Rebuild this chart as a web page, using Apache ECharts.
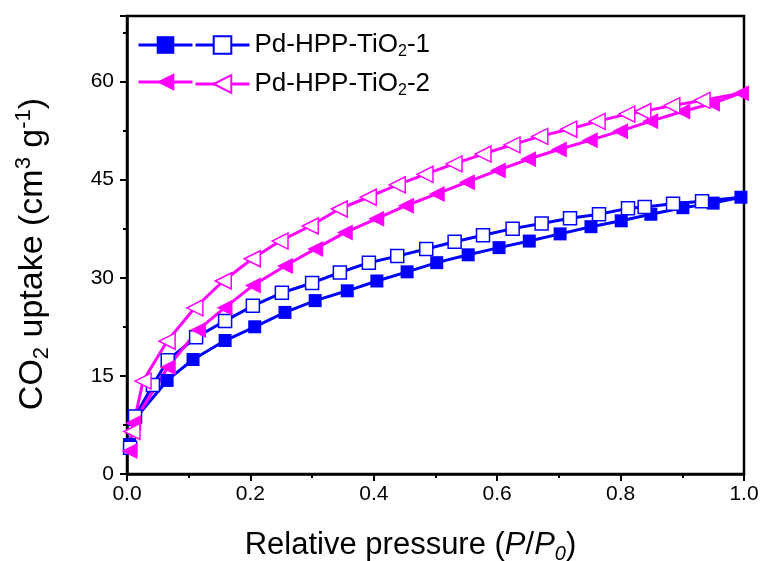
<!DOCTYPE html>
<html><head><meta charset="utf-8">
<script src="https://cdn.jsdelivr.net/npm/echarts@6/dist/echarts.min.js"></script>
<style>html,body{margin:0;padding:0;background:#fff}#c{width:761px;height:561px}</style>
</head><body><div id="c"></div>
<script>
// Relative pressure (P/P0), CO2 uptake (cm3 g-1)
const sample1Adsorption = [[0.004,4.5],[0.012,8.3],[0.065,14.3],[0.107,17.5],[0.159,20.4],[0.207,22.5],[0.256,24.7],[0.305,26.5],[0.357,28.0],[0.405,29.5],[0.454,30.9],[0.502,32.3],[0.553,33.5],[0.603,34.6],[0.652,35.6],[0.702,36.7],[0.752,37.8],[0.801,38.7],[0.849,39.7],[0.901,40.7],[0.950,41.4],[0.995,42.3]];
const sample1Desorption = [[0.995,42.3],[0.932,41.7],[0.885,41.3],[0.839,40.8],[0.812,40.6],[0.765,39.7],[0.718,39.1],[0.672,38.3],[0.625,37.5],[0.577,36.5],[0.531,35.5],[0.485,34.4],[0.438,33.3],[0.392,32.3],[0.345,30.8],[0.300,29.2],[0.251,27.7],[0.204,25.7],[0.159,23.4],[0.112,20.9],[0.066,17.4],[0.042,13.6],[0.013,8.8],[0.005,4.0]];
const sample2Adsorption = [[0.004,3.5],[0.010,7.8],[0.066,16.3],[0.115,22.0],[0.158,25.4],[0.204,28.8],[0.256,31.8],[0.305,34.4],[0.353,36.9],[0.404,39.0],[0.452,41.0],[0.502,42.8],[0.551,44.6],[0.601,46.4],[0.650,48.1],[0.700,49.6],[0.750,51.0],[0.799,52.4],[0.848,53.9],[0.900,55.4],[0.948,56.6],[0.995,58.2]];
const sample2Desorption = [[0.995,58.2],[0.932,57.1],[0.883,56.3],[0.836,55.4],[0.810,55.0],[0.762,53.9],[0.716,52.7],[0.669,51.6],[0.624,50.3],[0.577,48.9],[0.530,47.4],[0.483,45.8],[0.438,44.2],[0.391,42.3],[0.344,40.5],[0.297,37.9],[0.248,35.6],[0.203,32.9],[0.156,29.5],[0.110,25.4],[0.065,20.3],[0.026,14.2],[0.008,6.5]];
const xTicks = [0, 0.2, 0.4, 0.6, 0.8, 1.0];
const yTicks = [0, 15, 30, 45, 60];
const legendLabels = ['Pd-HPP-TiO{sub|2}-1', 'Pd-HPP-TiO{sub|2}-2'];

const FONT = "'Liberation Sans', Arial, sans-serif";
const BLUE = '#0000ff', MAG = '#ff00ff';

function desData(arr){ return arr.map((p,i)=> i===0 ? {value:p, symbol:'none'} : p); }

function mk(name, data, color, symbol, filled, size, rot){
  return {
    name, type:'line', data, symbol, symbolSize:size, symbolRotate:rot||0,
    showAllSymbol:true, animation:false,
    lineStyle:{color, width:3},
    itemStyle:{color: filled ? color : '#fff', borderColor:color, borderWidth:filled?0:1.5},
    emphasis:{disabled:true}
  };
}

const textStyle = {fontFamily:FONT, fontSize:26, color:'#000', rich:{sub:{fontFamily:FONT, fontSize:16, color:'#000', verticalAlign:'bottom', padding:[14,0,0,0]}}};
const legendCommon = {top:27, orient:'vertical', itemWidth:54, itemHeight:22, itemGap:11, textStyle, selectedMode:false, lineStyle:{width:3}};

const chart = echarts.init(document.getElementById('c'));
chart.setOption({
  backgroundColor:'#fff',
  animation:false,
  grid:{left:127, right:17, top:16, bottom:87, show:true, borderColor:'#000', borderWidth:2.5, backgroundColor:'transparent', containLabel:false, outerBoundsMode:'none'},
  legend:[
    Object.assign({data:['s1a','s2a'], left:132, formatter:()=>' '}, legendCommon),
    Object.assign({data:['s1d','s2d'], left:189, formatter:(n)=> n==='s1d'?legendLabels[0]:legendLabels[1]}, legendCommon)
  ],
  xAxis:{type:'value', min:xTicks[0], max:xTicks[xTicks.length-1], interval:xTicks[1]-xTicks[0],
    name:'Relative pressure ({it|P}/{it|P}{itsub|0})', nameLocation:'middle', nameGap:53,
    nameTextStyle:{fontFamily:FONT, fontSize:31, color:'#000', padding:[0,50,0,0],
      rich:{it:{fontFamily:FONT, fontSize:31, fontStyle:'italic', color:'#000'}, itsub:{fontFamily:FONT, fontSize:20, fontStyle:'italic', color:'#000', verticalAlign:'bottom', padding:[17,0,0,0]}}},
    axisLine:{lineStyle:{color:'#000', width:2.5}},
    axisTick:{inside:false, length:7, lineStyle:{width:2}},
    minorTick:{show:true, splitNumber:2, length:4, lineStyle:{color:'#000', width:2}},
    splitLine:{show:false},
    axisLabel:{fontFamily:FONT, fontSize:21, color:'#000', margin:10, formatter:v=>v.toFixed(1)}
  },
  yAxis:{type:'value', min:yTicks[0], max:70, interval:yTicks[1]-yTicks[0],
    name:'CO{sub|2} uptake (cm{sup|3} g{sup|-1})', nameLocation:'middle', nameGap:74,
    nameTextStyle:{fontFamily:FONT, fontSize:34, color:'#000', padding:[0,18,0,0],
      rich:{sub:{fontFamily:FONT, fontSize:22, color:'#000', verticalAlign:'bottom', padding:[18,0,0,0]},
            sup:{fontFamily:FONT, fontSize:22, color:'#000', verticalAlign:'top', padding:[0,0,16,0]}}},
    axisLine:{lineStyle:{color:'#000', width:2.5}},
    axisTick:{inside:false, length:7, lineStyle:{width:2}},
    minorTick:{show:true, splitNumber:2, length:4, lineStyle:{color:'#000', width:2}},
    splitLine:{show:false},
    axisLabel:{fontFamily:FONT, fontSize:21, color:'#000', margin:13, showMaxLabel:false}
  },
  series:[
    mk('s1a', sample1Adsorption, BLUE, 'rect', true, 13),
    mk('s1d', desData(sample1Desorption), BLUE, 'rect', false, 13),
    mk('s2a', sample2Adsorption, MAG, 'triangle', true, 16, 90),
    mk('s2d', desData(sample2Desorption), MAG, 'triangle', false, 16, 90)
  ]
});
</script></body></html>
